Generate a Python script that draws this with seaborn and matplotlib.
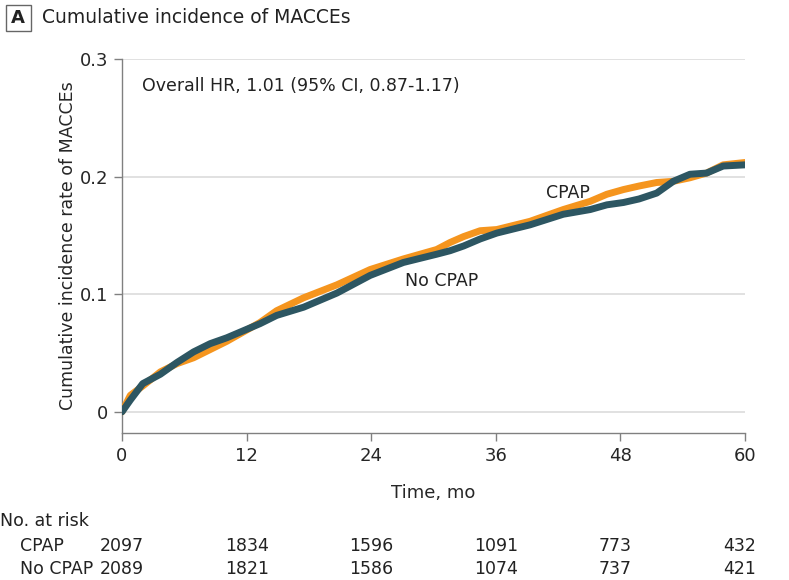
import pandas as pd
import numpy as np
import matplotlib
matplotlib.use("Agg")
import matplotlib.pyplot as plt
import seaborn as sns
from matplotlib.patches import Rectangle

# Values
time_mo = [0, 0.8, 2, 3.7, 5.3, 6.9, 8.5, 10.1, 11.7, 13.3, 14.9, 17.5, 20.7, 23.9, 27.1,
           30.3, 31.6, 32.9, 34.5, 36.1, 39.3, 42.5, 45.1, 46.7, 48.3, 49.8, 51.5, 53.1,
           54.7, 56.3, 57.9, 60]
cpap = [0, 0.014, 0.022, 0.034, 0.041, 0.046, 0.053, 0.060, 0.068, 0.076, 0.086, 0.097,
        0.108, 0.121, 0.130, 0.138, 0.144, 0.149, 0.154, 0.155, 0.162, 0.172, 0.179, 0.185,
        0.189, 0.192, 0.195, 0.196, 0.199, 0.203, 0.210, 0.212]
no_cpap = [0, 0.010, 0.024, 0.032, 0.042, 0.051, 0.058, 0.063, 0.069, 0.075, 0.082, 0.089,
           0.101, 0.116, 0.127, 0.134, 0.137, 0.141, 0.147, 0.152, 0.159, 0.168, 0.172, 0.176,
           0.178, 0.181, 0.186, 0.196, 0.202, 0.203, 0.209, 0.210]

x_ticks = [0, 12, 24, 36, 48, 60]
y_ticks = [0, 0.1, 0.2, 0.3]
y_tick_labels = ["0", "0.1", "0.2", "0.3"]
risk_cpap = [2097, 1834, 1596, 1091, 773, 432]
risk_no_cpap = [2089, 1821, 1586, 1074, 737, 421]

orange = "#F5951E"
teal = "#2D5662"
grey = "#808080"

sns.set_style("white")
plt.rcParams["font.family"] = ["DejaVu Sans"]
plt.rcParams["text.color"] = "#222222"

df = pd.DataFrame({"time": time_mo * 2,
                   "rate": cpap + no_cpap,
                   "group": ["CPAP"] * len(time_mo) + ["No CPAP"] * len(time_mo)})

fig = plt.figure(figsize=(7.89, 5.80), dpi=100)
ax = fig.add_axes([0.1546, 0.2534, 0.7896, 0.6449])

for y in y_ticks:
    ax.axhline(y, color="#dcdcdc", lw=1.2, zorder=0)

sns.lineplot(data=df, x="time", y="rate", hue="group", palette={"CPAP": orange, "No CPAP": teal},
             linewidth=5, legend=False, ax=ax, zorder=3)

ax.set_xlim(0, 60)
ax.set_ylim(-0.018, 0.3)
ax.set_xticks(x_ticks)
ax.set_yticks(y_ticks)
ax.set_yticklabels(y_tick_labels)
ax.tick_params(axis="both", labelsize=13, length=6, width=1, color=grey, direction="out",
               left=True, bottom=True, pad=4)
for s in ["top", "right"]:
    ax.spines[s].set_visible(False)
for s in ["left", "bottom"]:
    ax.spines[s].set_color(grey)
    ax.spines[s].set_linewidth(1)

ax.set_xlabel("Time, mo", fontsize=13, labelpad=14)
ax.set_ylabel("Cumulative incidence rate of MACCEs", fontsize=12.5, labelpad=2)

ax.text(1.9, 0.277, "Overall HR, 1.01 (95% CI, 0.87-1.17)", fontsize=12.5, va="center")
ax.text(40.8, 0.186, "CPAP", fontsize=12.5, va="center")
ax.text(27.3, 0.111, "No CPAP", fontsize=12.5, va="center")

# panel title
fig.patches.append(Rectangle((0.007, 0.946), 0.032, 0.046, transform=fig.transFigure,
                             fill=False, edgecolor="#666666", lw=1))
fig.text(0.023, 0.969, "A", fontsize=13, fontweight="bold", ha="center", va="center")
fig.text(0.053, 0.969, "Cumulative incidence of MACCEs", fontsize=13.5, va="center")

# number at risk table
trans = ax.get_xaxis_transform()
fig.text(0.0, 0.1017, "No. at risk", fontsize=12.5, va="center")
fig.text(0.025, 0.0586, "CPAP", fontsize=12.5, va="center")
fig.text(0.025, 0.019, "No CPAP", fontsize=12.5, va="center")
for xt, a, b in zip(x_ticks, risk_cpap, risk_no_cpap):
    xx = xt - 2.1
    ax.text(xx, -0.302, str(a), transform=trans, fontsize=12.5, ha="left", va="center", clip_on=False)
    ax.text(xx, -0.364, str(b), transform=trans, fontsize=12.5, ha="left", va="center", clip_on=False)

fig.savefig("out.png", dpi=100)
